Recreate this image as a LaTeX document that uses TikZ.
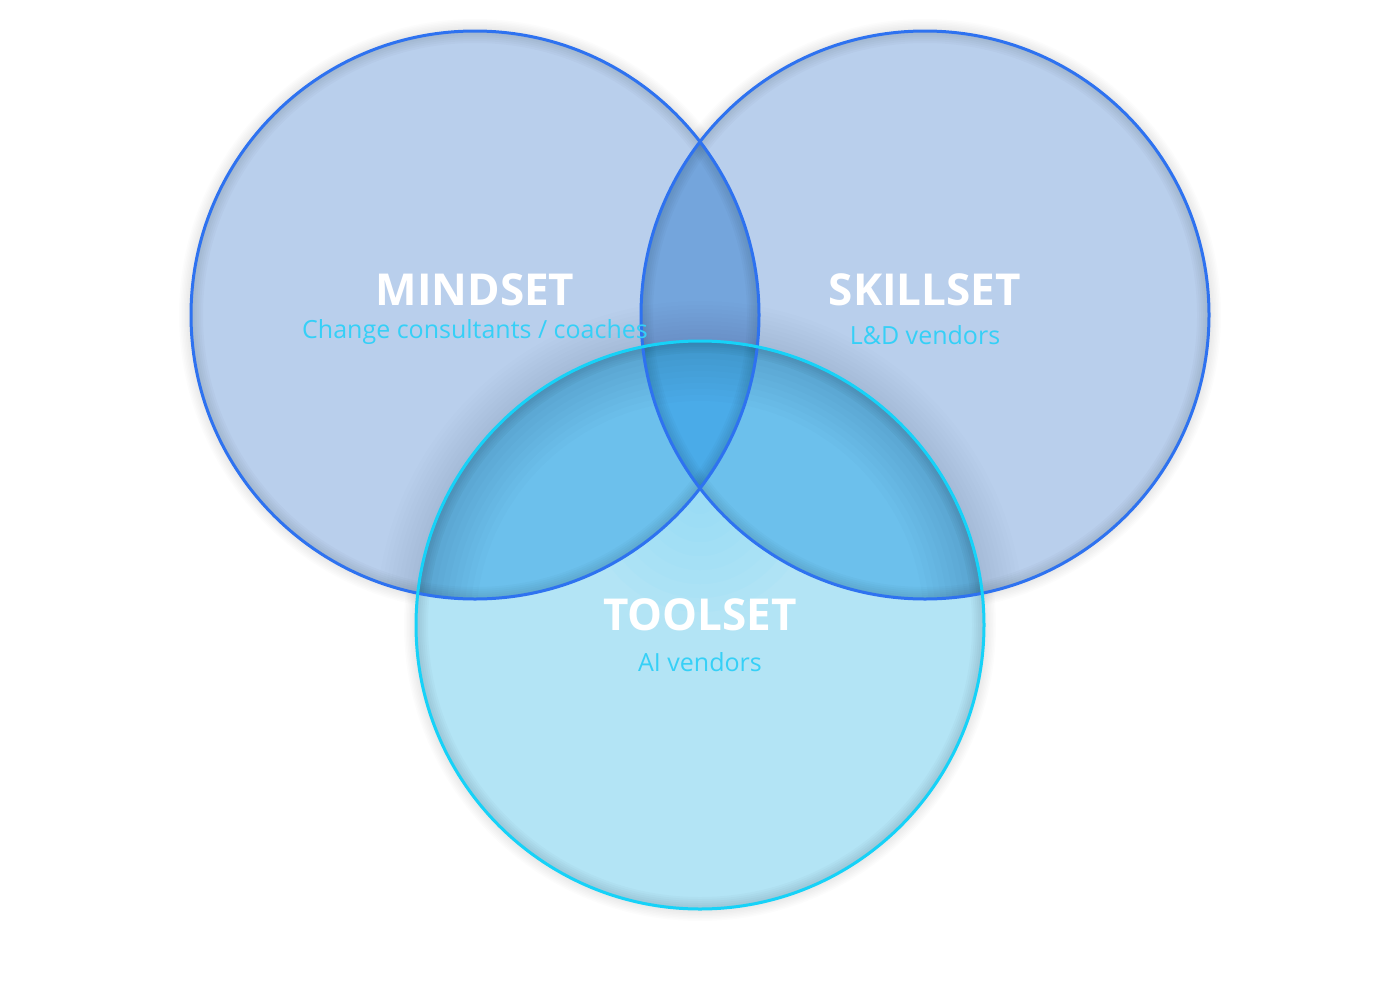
\documentclass[tikz,border=0pt]{standalone}
\usepackage{fontspec}
\setmainfont{Open Sans}
\definecolor{setfill}{HTML}{B9CFEC}
\definecolor{toolfill}{HTML}{B3E4F5}
\definecolor{toolglow}{HTML}{8ADAF5}
\definecolor{msfill}{HTML}{74A5DC}
\definecolor{mtfill}{HTML}{6CC0EC}
\definecolor{allfill}{HTML}{4AABE8}
\definecolor{setline}{HTML}{2E72F0}
\definecolor{toolline}{HTML}{16D2F8}
\definecolor{subtext}{HTML}{35D0F7}
\tikzset{
  settitle/.style={font=\fontsize{44}{44}\selectfont\bfseries, text=white},
  setsub/.style={font=\fontsize{25}{25}\selectfont, text=subtext},
  setring/.style={line width=3, draw=setline},
  toolring/.style={line width=3, draw=toolline},
}
\begin{document}
\begin{tikzpicture}[x=1pt,y=-1pt]
    \useasboundingbox (0,0) rectangle (1400,980);
    \coordinate (mind) at (475,315);
    \coordinate (skill) at (925,315);
    \coordinate (tool) at (700,625);
    \coordinate (cross) at (700,500);

    % Ombra esterna
    \foreach \c in {mind,skill,tool}
        \foreach \i in {1,...,8}
            \fill[black, opacity=0.012] (\c) circle ({284+\i*1.5});

    % Mindset e Skillset
    \fill[setfill] (mind) circle (284);
    \fill[setfill] (skill) circle (284);
    \begin{scope}
        \clip (mind) circle (284);
        \fill[msfill] (skill) circle (284);
    \end{scope}

    % Ombra del toolset sui due cerchi sopra
    \begin{scope}
        \clip (mind) circle (284) (skill) circle (284);
        \foreach \i in {1,...,10}
            \fill[black, opacity=0.007] (tool) circle ({284+\i*4});
    \end{scope}

    % Toolset, bagliore sotto l'incrocio e intersezioni
    \fill[toolfill] (tool) circle (284);
    \begin{scope}
        \clip (tool) circle (284);
        \foreach \i in {1,...,8}
            \fill[toolglow, opacity=0.09] (cross) circle ({\i*14});
    \end{scope}
    \begin{scope}
        \clip (tool) circle (284);
        \fill[mtfill] (mind) circle (284);
        \fill[mtfill] (skill) circle (284);
        \clip (mind) circle (284);
        \fill[allfill] (skill) circle (284);
    \end{scope}

    % Penombra dentro le intersezioni col toolset
    \begin{scope}
        \clip (tool) circle (284);
        \clip (mind) circle (284) (skill) circle (284);
        \foreach \i in {1,...,10}
            \draw[black, opacity=0.01, line width=\i*12] (tool) circle (284);
    \end{scope}

    % Ombra interna lungo i bordi
    \foreach \c in {mind,skill,tool}{
        \begin{scope}
            \clip (\c) circle (284);
            \foreach \i in {1,...,6}
                \draw[black, opacity=0.02, line width=\i*4] (\c) circle (284);
        \end{scope}
    }

    % Contorni
    \draw[setring] (mind) circle (284);
    \draw[setring] (skill) circle (284);
    \draw[toolring] (tool) circle (284);

    % Etichette
    \node[settitle] (mindtitle) at (475,290) {MINDSET};
    \node[setsub] (mindsub) at (475,332) {Change consultants / coaches};
    \node[settitle] (skilltitle) at (925,290) {SKILLSET};
    \node[setsub] (skillsub) at (925,335) {L\&D vendors};
    \node[settitle] (tooltitle) at (700,615) {TOOLSET};
    \node[setsub] (toolsub) at (700,662) {AI vendors};
\end{tikzpicture}
\end{document}
